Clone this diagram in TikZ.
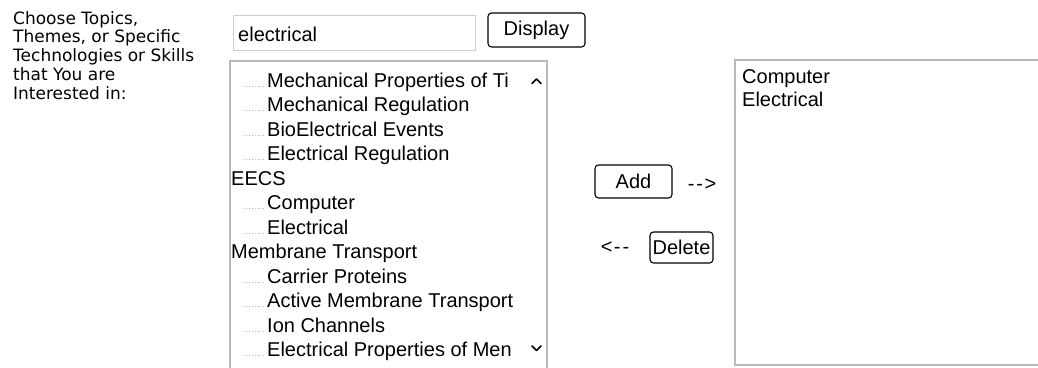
\documentclass[tikz,border=0pt]{standalone}
\usepackage{fontspec}
\setmainfont{Liberation Sans}
\newfontfamily\promptfont{DejaVu Sans}
\begin{document}
\begin{tikzpicture}[x=1pt,y=-1pt,
  ui/.style={font=\fontsize{20}{24}\selectfont, inner sep=0pt},
  item/.style={ui, anchor=base west},
  btn/.style={draw=black, line width=1.1pt, rounded corners=3.5pt, ui, fill=white},
  frame/.style={draw=gray!55, line width=1.4pt},
  lead/.style={draw=gray!55, line width=0.9pt, dotted},
  chev/.style={line width=1.6pt, line cap=round, line join=round}
]
\useasboundingbox (0,0) rectangle (1038,367);
\fill[white] (0,0) rectangle (1038,367);

% prompt text
\node[anchor=north west, inner sep=0pt, align=left,
      font=\promptfont\fontsize{17}{18.8}\selectfont] (prompt) at (13,11)
  {Choose Topics,\\Themes, or Specific\\Technologies or Skills\\that You are\\Interested in:};

% search field and button
\node[draw=gray!40, line width=0.8pt, minimum width=242pt, minimum height=35pt,
      anchor=north west, inner sep=0pt] (search) at (233,15) {};
\node[item] (query) at (238,41) {electrical};
\node[btn, minimum width=97pt, minimum height=34pt] (display) at (536.5,30) {Display};

% topic list (long entries are cut off at the scroll bar)
\draw[frame] (230,367.5) -- (230,61) -- (547,61) -- (547,367.5);
\foreach \txt/\ind [count=\k from 0] in {
    Mechanical Properties of Ti/1,
    Mechanical Regulation/1,
    BioElectrical Events/1,
    Electrical Regulation/1,
    EECS/0,
    Computer/1,
    Electrical/1,
    Membrane Transport/0,
    Carrier Proteins/1,
    Active Membrane Transport/1,
    Ion Channels/1,
    Electrical Properties of Men/1} {
  \pgfmathsetmacro{\yb}{87+24.5*\k}
  \ifnum\ind=1
    \draw[lead] (243,\yb-1) -- (265,\yb-1);
    \node[item] (topic\k) at (267,\yb) {\txt};
  \else
    \node[item] (topic\k) at (231,\yb) {\txt};
  \fi
}
\draw[chev] (532,83.5) -- (536.5,79) -- (541,83.5);
\draw[chev] (532,346) -- (536.5,350.5) -- (541,346);

% add / delete controls
\node[btn, minimum width=77pt, minimum height=33pt] (add) at (633.5,181.5) {Add};
\node[ui] (toright) at (702,185) {-\kern2pt-\kern1.5pt>};
\node[btn, minimum width=63pt, minimum height=31pt] (delete) at (681.5,247.5) {Delete};
\node[ui] (toleft) at (615,248) {<\kern1.5pt-\kern2pt-};

% selected list
\draw[frame] (1039,60) -- (735,60) -- (735,365) -- (1039,365);
\node[item] (chosen0) at (742,83) {Computer};
\node[item] (chosen1) at (742,106) {Electrical};
\end{tikzpicture}
\end{document}
